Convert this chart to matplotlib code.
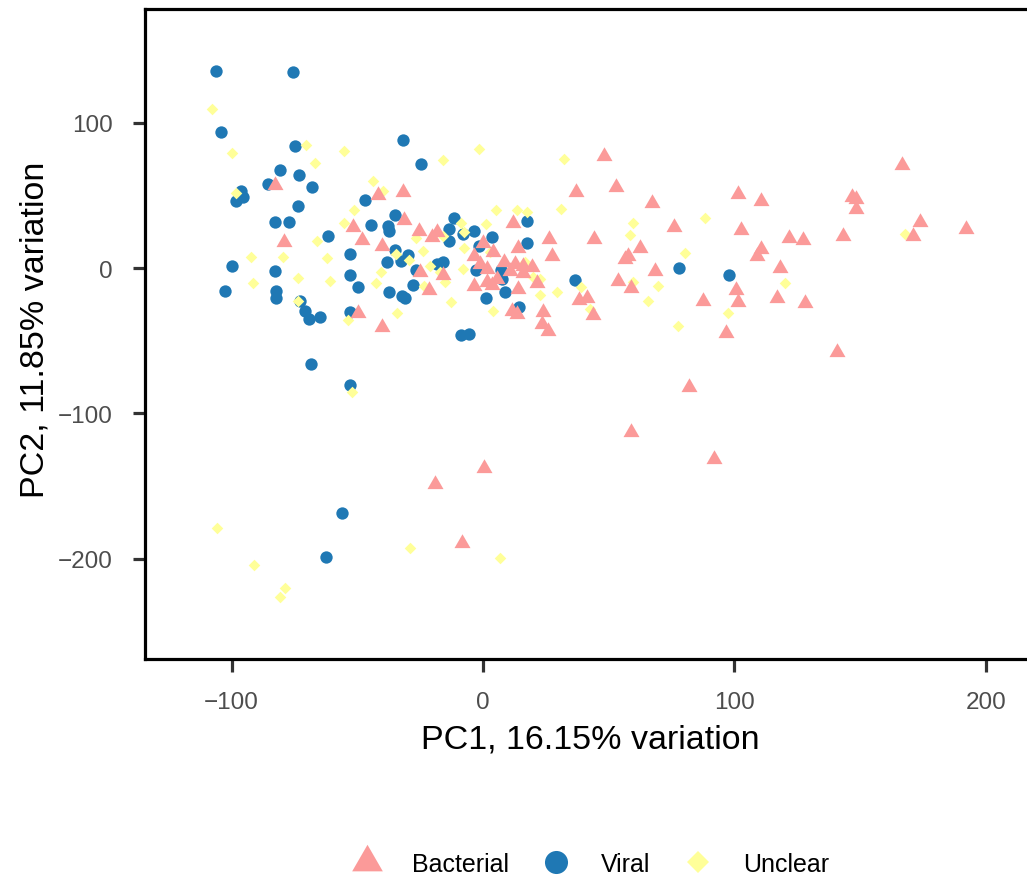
import matplotlib
matplotlib.use("Agg")
import matplotlib.pyplot as plt
from matplotlib.lines import Line2D

plt.rcParams['font.family'] = ['Liberation Sans', 'DejaVu Sans']

# ---- data ----
viral_x = [-106.2, -75.7, -104.1, -74.9, -80.8, -73.2, -85.4, -68.1, -96.3, -95.5, -98.2, -73.7,
           -82.8, -77.1, -61.6, -99.7, -82.8, -102.5, -82.3, -82.2, -72.6, -70.8, -69.3, -64.8,
           -68.5, -56.2, -62.4, -53.0, -53.0, -49.7, -38.2, -32.7, -29.8, -26.8, -27.7, -37.3,
           -32.1, -30.9, -18.4, -15.8, -52.9, -8.7, -5.6, -52.9, -2.8, 7.0, 8.6, 1.2, 14.4,
           -31.7, -24.5, -46.8, -35.0, -44.5, -37.7, -37.3, -11.4, -13.4, -3.7, 3.5, -1.6, 17.4,
           17.4, -35.0, 78.1, 36.5, 97.8, -13.4, -7.8, 7.4]
viral_y = [135.6, 134.9, 93.6, 83.8, 67.4, 63.8, 57.6, 56.0, 52.8, 49.1, 45.9, 42.5,
           31.9, 31.5, 22.2, 1.4, -2.3, -15.8, -16.0, -20.4, -22.9, -29.4, -35.3, -33.9,
           -66.1, -168.6, -198.7, 9.4, -4.8, -12.9, 4.3, 5.0, 9.2, -1.2, -11.7, -16.7,
           -19.1, -20.9, 2.8, 4.3, -30.5, -46.1, -45.4, -80.3, -1.2, -1.2, -16.7, -20.6, -26.8,
           87.9, 71.8, 46.6, 36.3, 29.4, 29.1, 25.3, 34.4, 26.8, 25.3, 21.3, 15.3, 32.6,
           17.2, 12.6, -0.2, -8.1, -4.8, 18.4, 23.4, -7.6]

bacterial_x = [-82.6, -79.2, -19.1, 0.4, -8.5, -25.0, -21.5, -16.0, -49.6, -40.0, -3.5, -3.5,
               -1.2, 1.5, 1.5, 5.4, 3.5, 8.5, 12.7, 16.0, 19.4, 10.7, 16.0, 14.0, 11.4, 13.4,
               14.0, 0.0, 11.8, 26.2, 27.6, 4.1, 21.4, 24.0, 23.3, 26.0, -41.6, -31.7, -31.3,
               -51.6, -48.0, -40.3, -25.4, -18.2, -20.4, 48.1, 37.0, 52.9, 67.3, 75.9, 44.3,
               62.4, 57.8, 56.5, 68.5, 53.8, 58.7, 38.2, 41.2, 43.9, 101.5, 110.5, 102.5, 121.7,
               127.1, 143.3, 110.5, 108.8, 118.1, 100.5, 87.5, 101.5, 116.8, 127.9, 96.5, 166.5,
               146.8, 148.3, 148.3, 173.8, 192.0, 171.1, 140.6, 82.0, 58.8, 92.0]
bacterial_y = [57.1, 17.7, -148.5, -137.4, -189.5, -3.0, -14.9, -4.5, -31.0, -40.8, 8.5, -12.2,
               2.8, -0.7, -9.8, -7.6, -11.5, 4.2, 2.8, 1.6, 0.5, -1.9, -3.6, -14.5, -29.4, -31.7,
               13.6, 17.2, 31.0, 20.0, 8.1, 10.8, -10.5, -30.5, -38.5, -43.2, 50.2, 52.1, 33.0,
               28.0, 19.5, 15.3, 25.7, 24.6, 21.1, 76.9, 52.5, 55.5, 44.5, 28.2, 20.0,
               14.0, 8.5, 6.2, -2.3, -8.7, -14.0, -22.0, -20.9, -32.3, 50.9, 46.3, 26.2, 20.6,
               19.5, 22.2, 13.1, 8.5, 0.2, -14.9, -22.9, -23.6, -20.9, -24.3, -44.7, 70.9,
               48.7, 47.5, 40.6, 31.9, 26.8, 21.8, -58.0, -82.1, -113.1, -131.5]

unclear_x = [-107.9, -99.9, -70.3, -66.9, -55.4, -98.3, -55.3, -66.1, -92.2, -79.6, -61.9, -73.4,
             -60.7, -91.3, -73.4, -105.9, -91.1, -78.8, -80.8, -29.0, 6.9, -40.7, -42.5, -34.7,
             -29.4, -23.9, -23.5, -17.1, -15.1, -21.1, -12.8, -53.6, -34.1, -52.1, -7.8, 3.9,
             2.8, -1.5, -15.9, -43.7, -39.9, -51.3, 5.0, 13.6, 17.4, -8.9, -7.4, 1.2, -7.7,
             -26.5, -15.8, 32.3, 31.1, 59.8, 58.3, 59.5, 69.6, 65.5, 29.5, 39.1, 42.4, 22.7,
             77.7, 16.7, 20.0, 22.7, 88.3, 80.4, 120.0, 97.3, 167.9]
unclear_y = [109.6, 79.4, 84.9, 72.3, 80.3, 51.6, 31.0, 18.6, 7.6, 7.8, 6.7, -6.9,
             -9.2, -10.1, -22.9, -179.1, -204.2, -220.0, -226.6, -192.5, -199.6, -2.5, -10.3, 9.8,
             5.7, 11.9, -12.2, -2.5, -9.8, 1.6, -23.2, -35.8, -31.2, -85.5, -0.7, -29.8,
             10.8, 82.1, 74.1, 59.9, 53.2, 40.1, 39.9, 40.1, 38.3, 30.8, 24.6, 30.5, 13.5,
             20.4, 22.2, 75.0, 40.4, 31.2, 22.5, -9.8, -12.6, -22.9, -16.5, -12.9, -28.2, -18.4,
             -39.7, 4.3, -6.4, -7.6, 34.2, 10.5, -10.1, -31.2, 23.6]

groups = ["Bacterial", "Viral", "Unclear"]
x_title = "PC1, 16.15% variation"
y_title = "PC2, 11.85% variation"
x_ticks = [-100, 0, 100, 200]
y_ticks = [-200, -100, 0, 100]

# ---- styling ----
col_bac, col_vir, col_unc = "#FB9A99", "#1F78B4", "#FFFF99"
tri = [(0, 1), (-0.866, -0.5), (0.866, -0.5)]

W, H = 1027, 879
fig = plt.figure(figsize=(W / 100, H / 100), dpi=100)
left, right, top, bottom = 145, 1035, 10, 660
ax = fig.add_axes([left / W, 1 - bottom / H, (right - left) / W, (bottom - top) / H])

ax.scatter(viral_x, viral_y, s=79, marker='o', color=col_vir, linewidths=0, zorder=2)
ax.scatter(unclear_x, unclear_y, s=35, marker='D', color=col_unc, linewidths=0, zorder=3)
ax.scatter(bacterial_x, bacterial_y, s=177, marker=tri, color=col_bac, linewidths=0, zorder=4)

ax.set_xlim(-134.4, 219.5)
ax.set_ylim(-269.1, 178.3)
ax.set_xticks(x_ticks)
ax.set_yticks(y_ticks)
for sp in ax.spines.values():
    sp.set_linewidth(2.3)
    sp.set_color("black")
ax.tick_params(axis='both', length=9, width=2.3, color="#333333",
               labelsize=17.5, labelcolor="#4D4D4D", pad=14)

fig.text(590 / W, 1 - 740 / H, x_title, ha='center', va='center', fontsize=24.5, color='black')
fig.text(35 / W, 1 - 330 / H, y_title, ha='center', va='center', rotation=90,
         fontsize=24.5, color='black')

handles = [
    Line2D([], [], linestyle='none', marker=tri, markersize=25.5, color=col_bac, markeredgewidth=0),
    Line2D([], [], linestyle='none', marker='o', markersize=16.6, color=col_vir, markeredgewidth=0),
    Line2D([], [], linestyle='none', marker='D', markersize=11.7, color=col_unc, markeredgewidth=0),
]
fig.legend(handles, groups, loc='center', bbox_to_anchor=(585.5 / W, 1 - 865 / H), ncol=3,
           frameon=False, fontsize=18, handlelength=2.0, handletextpad=0.8, columnspacing=0.9)

fig.savefig("out.png", dpi=100)
